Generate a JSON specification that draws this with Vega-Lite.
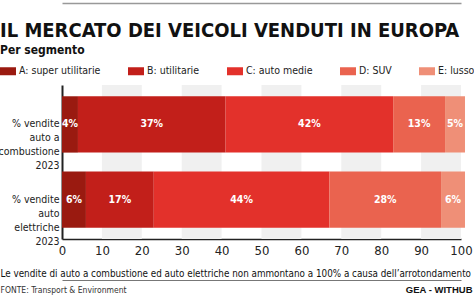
{
  "$schema": "https://vega.github.io/schema/vega-lite/v6.json",
  "width": 399,
  "height": 154,
  "autosize": {"type": "none"},
  "padding": {"left": 62, "top": 85, "right": 13, "bottom": 58},
  "background": "white",
  "datasets": {
    "shares": [
      {"cat": "% vendite|auto a|combustione|2023", "seg": "A: super utilitarie", "pct": 4, "txt": "4%"},
      {"cat": "% vendite|auto a|combustione|2023", "seg": "B: utilitarie", "pct": 37, "txt": "37%"},
      {"cat": "% vendite|auto a|combustione|2023", "seg": "C: auto medie", "pct": 42, "txt": "42%"},
      {"cat": "% vendite|auto a|combustione|2023", "seg": "D: SUV", "pct": 13, "txt": "13%"},
      {"cat": "% vendite|auto a|combustione|2023", "seg": "E: lusso", "pct": 5, "txt": "5%"},
      {"cat": "% vendite|auto|elettriche|2023", "seg": "A: super utilitarie", "pct": 6, "txt": "6%"},
      {"cat": "% vendite|auto|elettriche|2023", "seg": "B: utilitarie", "pct": 17, "txt": "17%"},
      {"cat": "% vendite|auto|elettriche|2023", "seg": "C: auto medie", "pct": 44, "txt": "44%"},
      {"cat": "% vendite|auto|elettriche|2023", "seg": "D: SUV", "pct": 28, "txt": "28%"},
      {"cat": "% vendite|auto|elettriche|2023", "seg": "E: lusso", "pct": 6, "txt": "6%"}
    ],
    "bands": [
      {"b0": 10, "b1": 20},
      {"b0": 30, "b1": 40},
      {"b0": 50, "b1": 60},
      {"b0": 70, "b1": 80},
      {"b0": 90, "b1": 100}
    ]
  },
  "title": {
    "text": "IL MERCATO DEI VEICOLI VENDUTI IN EUROPA",
    "subtitle": "Per segmento",
    "anchor": "start",
    "frame": "group",
    "dx": -62,
    "dy": 63,
    "font": "DejaVu Sans Condensed",
    "fontSize": 20,
    "fontWeight": "bold",
    "color": "#111111",
    "subtitleFont": "DejaVu Sans Condensed",
    "subtitleFontSize": 12,
    "subtitleFontWeight": "bold",
    "subtitleColor": "#111111",
    "subtitlePadding": 4,
    "offset": 10
  },
  "config": {
    "view": {"stroke": null},
    "font": "DejaVu Sans Condensed"
  },
  "resolve": {"axis": {"x": "independent"}},
  "layer": [
    {
      "data": {"name": "bands"},
      "mark": {"type": "rect", "color": "#f0f0f0"},
      "encoding": {
        "x": {
          "field": "b0",
          "type": "quantitative",
          "scale": {"domain": [0, 100], "nice": false},
          "axis": {
            "orient": "bottom",
            "offset": 41,
            "domainColor": "#777777",
            "domainWidth": 1,
            "labels": false,
            "ticks": false,
            "grid": false,
            "title": "FONTE: Transport & Environment",
            "titleX": -62,
            "titleY": 12,
            "titleAlign": "left",
            "titleBaseline": "alphabetic",
            "titleFont": "DejaVu Sans Condensed",
            "titleFontSize": 8.5,
            "titleFontWeight": "normal",
            "titleColor": "#333333"
          }
        },
        "x2": {"field": "b1"}
      }
    },
    {
      "data": {"name": "shares"},
      "mark": {"type": "bar"},
      "encoding": {
        "y": {
          "field": "cat",
          "type": "nominal",
          "sort": null,
          "scale": {"paddingInner": 0.25, "paddingOuter": 0.15},
          "axis": {
            "title": null,
            "labelExpr": "split(datum.label, '|')",
            "ticks": false,
            "domainColor": "#222222",
            "domainWidth": 2,
            "labelFont": "DejaVu Sans Condensed",
            "labelFontSize": 10.5,
            "labelColor": "#222222",
            "labelPadding": 3,
            "labelLineHeight": 14,
            "labelAlign": "right",
            "labelBaseline": "middle"
          }
        },
        "x": {
          "field": "pct",
          "type": "quantitative",
          "stack": "zero",
          "axis": {
            "orient": "bottom",
            "values": [0, 10, 20, 30, 40, 50, 60, 70, 80, 90, 100],
            "grid": false,
            "ticks": false,
            "labelFlush": false,
            "domainColor": "#222222",
            "domainWidth": 1.5,
            "labelFont": "DejaVu Sans Condensed",
            "labelFontSize": 13,
            "labelColor": "#222222",
            "labelPadding": 5,
            "title": "Le vendite di auto a combustione ed auto elettriche non ammontano a 100% a causa dell’arrotondamento",
            "titleX": -62,
            "titleY": 37,
            "titleAlign": "left",
            "titleBaseline": "alphabetic",
            "titleFont": "DejaVu Sans Condensed",
            "titleFontSize": 9.8,
            "titleFontWeight": "normal",
            "titleColor": "#111111"
          }
        },
        "color": {
          "field": "seg",
          "type": "nominal",
          "scale": {
            "domain": ["A: super utilitarie", "B: utilitarie", "C: auto medie", "D: SUV", "E: lusso"],
            "range": ["#9a1a10", "#c21f1a", "#e3312b", "#ea634f", "#ef8f77"]
          },
          "legend": {
            "orient": "none",
            "legendX": -62,
            "legendY": -22,
            "direction": "horizontal",
            "columns": 5,
            "title": null,
            "padding": 0,
            "symbolType": "M-1,-0.5H1V0.5H-1Z",
            "symbolSize": 256,
            "symbolStrokeWidth": 0,
            "symbolOpacity": 1,
            "labelFont": "DejaVu Sans Condensed",
            "labelFontSize": 10.5,
            "labelColor": "#222222",
            "labelOffset": 3,
            "columnPadding": 27
          }
        },
        "order": {"field": "seg", "sort": "ascending"}
      }
    },
    {
      "data": {"name": "shares"},
      "mark": {
        "type": "text",
        "color": "white",
        "font": "DejaVu Sans Condensed",
        "fontWeight": "bold",
        "fontSize": 10.5,
        "align": "center",
        "baseline": "middle"
      },
      "encoding": {
        "y": {"field": "cat", "type": "nominal", "sort": null},
        "x": {
          "field": "pct",
          "type": "quantitative",
          "stack": "zero",
          "bandPosition": 0.5,
          "axis": {
            "orient": "top",
            "offset": 82,
            "domain": true,
            "domainColor": "#999999",
            "domainWidth": 1.5,
            "labels": false,
            "ticks": false,
            "grid": false,
            "title": "GEA - WITHUB",
            "titleX": 410,
            "titleY": 289,
            "titleAlign": "right",
            "titleBaseline": "alphabetic",
            "titleFont": "Liberation Sans",
            "titleFontSize": 9.5,
            "titleFontWeight": "bold",
            "titleColor": "#111111"
          }
        },
        "detail": {"field": "seg"},
        "order": {"field": "seg", "sort": "ascending"},
        "text": {"field": "txt"}
      }
    }
  ]
}
